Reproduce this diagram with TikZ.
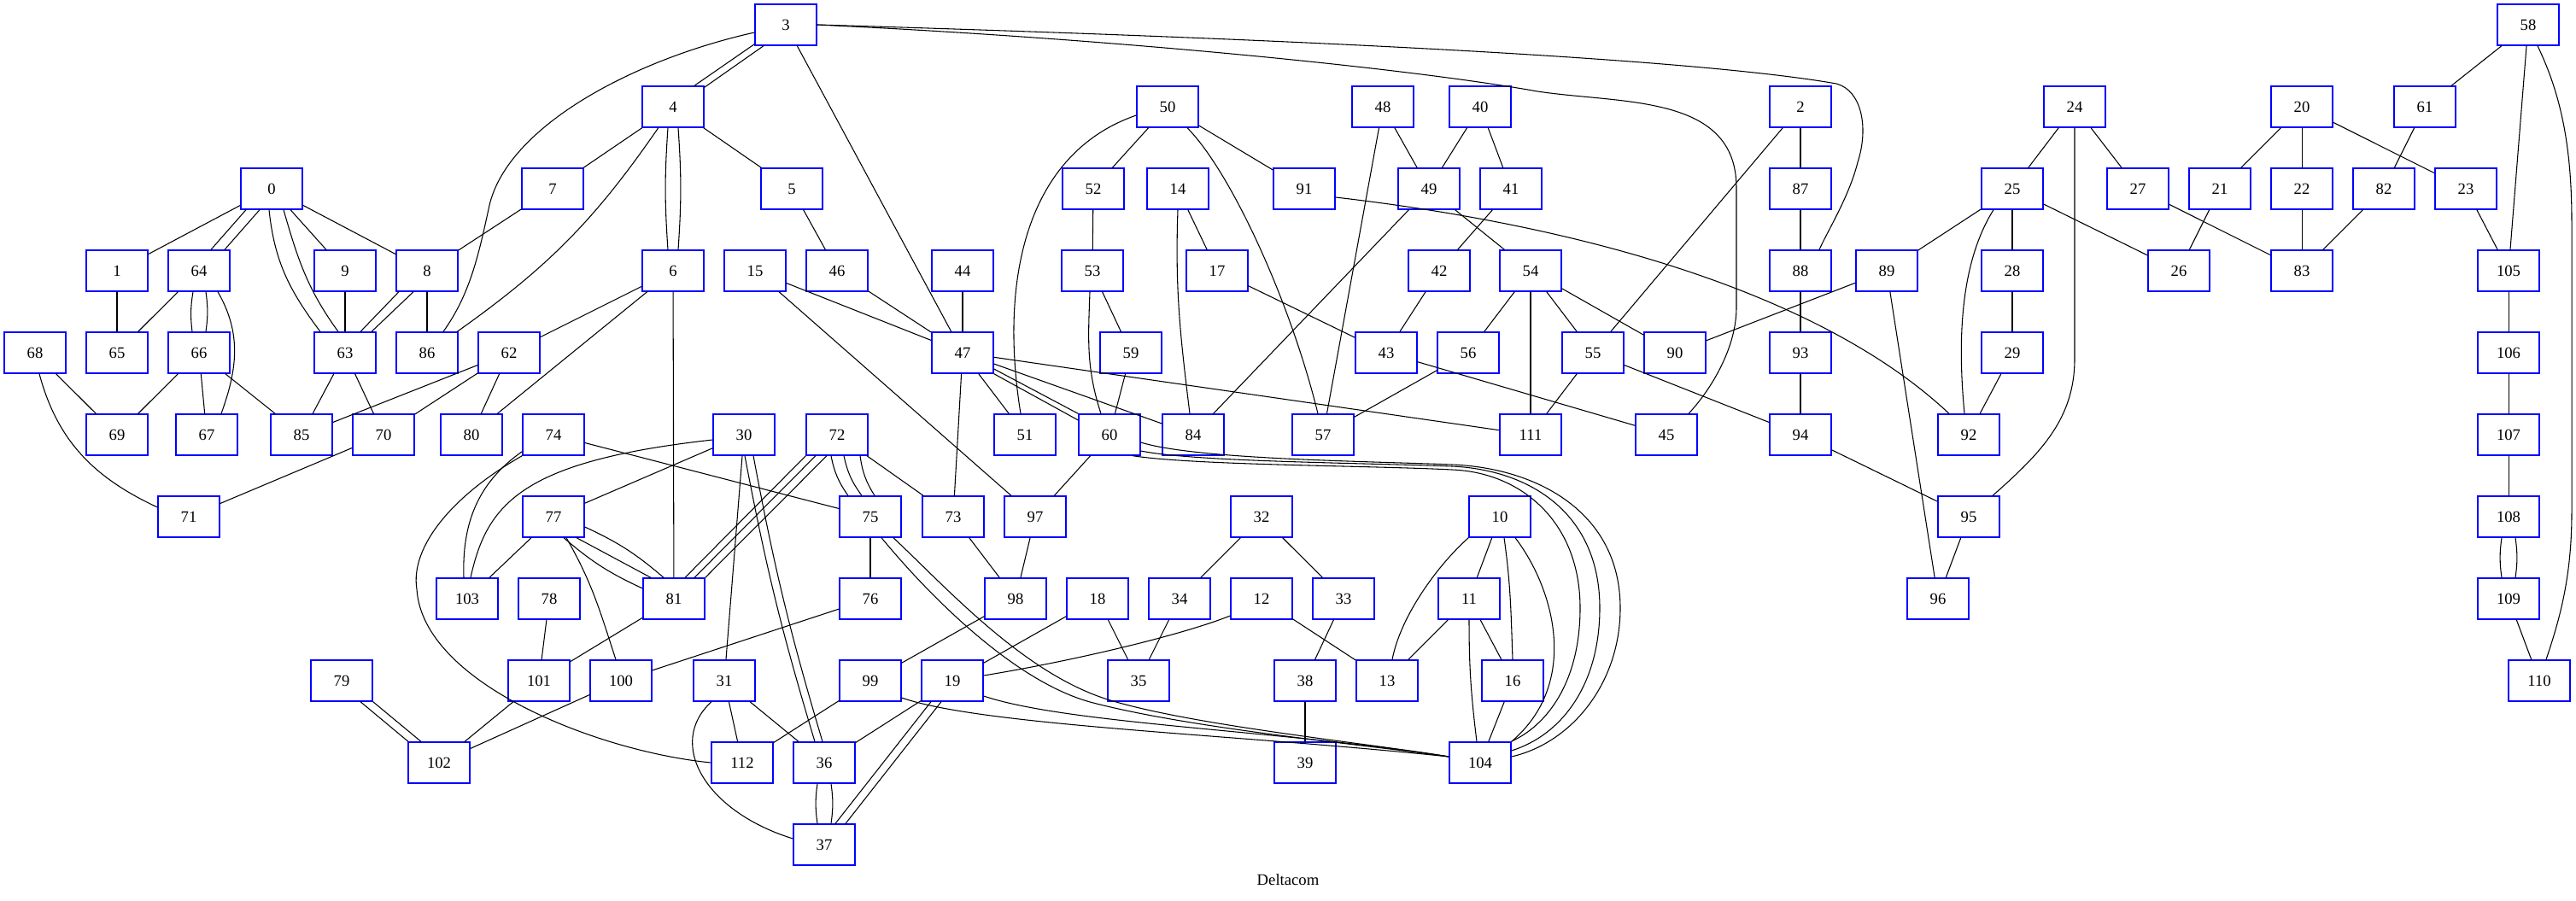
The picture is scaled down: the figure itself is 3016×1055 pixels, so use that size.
\documentclass[tikz,border=0pt]{standalone}
\usepackage{fontspec}
\setmainfont{Liberation Serif}
\usetikzlibrary{calc}
\begin{document}
\begin{tikzpicture}[x=0.75pt,y=0.75pt,line width=0.8pt,
  pop/.style={draw=blue,rectangle,line width=1pt,minimum width=54pt,minimum height=36pt,inner sep=0pt,font=\fontsize{14}{16}\selectfont}]
  \useasboundingbox (0,0) rectangle (3016,-1055);
  \node [pop] (n0) at (318,-221) {0};
  \node [pop] (n1) at (137,-317) {1};
  \node [pop] (n2) at (2108,-125) {2};
  \node [pop] (n3) at (920,-29) {3};
  \node [pop] (n4) at (788,-125) {4};
  \node [pop] (n5) at (927,-221) {5};
  \node [pop] (n6) at (788,-317) {6};
  \node [pop] (n7) at (647,-221) {7};
  \node [pop] (n8) at (500,-317) {8};
  \node [pop] (n9) at (404,-317) {9};
  \node [pop] (n10) at (1756,-605) {10};
  \node [pop] (n11) at (1720,-701) {11};
  \node [pop] (n12) at (1477,-701) {12};
  \node [pop] (n13) at (1624,-797) {13};
  \node [pop] (n14) at (1379,-221) {14};
  \node [pop] (n15) at (884,-317) {15};
  \node [pop] (n16) at (1771,-797) {16};
  \node [pop] (n17) at (1425,-317) {17};
  \node [pop] (n18) at (1285,-701) {18};
  \node [pop] (n19) at (1115,-797) {19};
  \node [pop] (n20) at (2695,-125) {20};
  \node [pop] (n21) at (2599,-221) {21};
  \node [pop] (n22) at (2695,-221) {22};
  \node [pop] (n23) at (2887,-221) {23};
  \node [pop] (n24) at (2429,-125) {24};
  \node [pop] (n25) at (2356,-221) {25};
  \node [pop] (n26) at (2551,-317) {26};
  \node [pop] (n27) at (2503,-221) {27};
  \node [pop] (n28) at (2356,-317) {28};
  \node [pop] (n29) at (2356,-413) {29};
  \node [pop] (n30) at (871,-509) {30};
  \node [pop] (n31) at (848,-797) {31};
  \node [pop] (n32) at (1477,-605) {32};
  \node [pop] (n33) at (1573,-701) {33};
  \node [pop] (n34) at (1381,-701) {34};
  \node [pop] (n35) at (1333,-797) {35};
  \node [pop] (n36) at (965,-893) {36};
  \node [pop] (n37) at (965,-989) {37};
  \node [pop] (n38) at (1528,-797) {38};
  \node [pop] (n39) at (1528,-893) {39};
  \node [pop] (n40) at (1733,-125) {40};
  \node [pop] (n41) at (1769,-221) {41};
  \node [pop] (n42) at (1685,-317) {42};
  \node [pop] (n43) at (1623,-413) {43};
  \node [pop] (n44) at (1127,-317) {44};
  \node [pop] (n45) at (1951,-509) {45};
  \node [pop] (n46) at (980,-317) {46};
  \node [pop] (n47) at (1127,-413) {47};
  \node [pop] (n48) at (1619,-125) {48};
  \node [pop] (n49) at (1673,-221) {49};
  \node [pop] (n50) at (1367,-125) {50};
  \node [pop] (n51) at (1200,-509) {51};
  \node [pop] (n52) at (1280,-221) {52};
  \node [pop] (n53) at (1279,-317) {53};
  \node [pop] (n54) at (1792,-317) {54};
  \node [pop] (n55) at (1865,-413) {55};
  \node [pop] (n56) at (1719,-413) {56};
  \node [pop] (n57) at (1549,-509) {57};
  \node [pop] (n58) at (2960,-29) {58};
  \node [pop] (n59) at (1324,-413) {59};
  \node [pop] (n60) at (1299,-509) {60};
  \node [pop] (n61) at (2839,-125) {61};
  \node [pop] (n62) at (596,-413) {62};
  \node [pop] (n63) at (404,-413) {63};
  \node [pop] (n64) at (233,-317) {64};
  \node [pop] (n65) at (137,-413) {65};
  \node [pop] (n66) at (233,-413) {66};
  \node [pop] (n67) at (242,-509) {67};
  \node [pop] (n68) at (41,-413) {68};
  \node [pop] (n69) at (137,-509) {69};
  \node [pop] (n70) at (449,-509) {70};
  \node [pop] (n71) at (221,-605) {71};
  \node [pop] (n72) at (980,-509) {72};
  \node [pop] (n73) at (1116,-605) {73};
  \node [pop] (n74) at (648,-509) {74};
  \node [pop] (n75) at (1019,-605) {75};
  \node [pop] (n76) at (1019,-701) {76};
  \node [pop] (n77) at (648,-605) {77};
  \node [pop] (n78) at (643,-701) {78};
  \node [pop] (n79) at (400,-797) {79};
  \node [pop] (n80) at (552,-509) {80};
  \node [pop] (n81) at (789,-701) {81};
  \node [pop] (n82) at (2791,-221) {82};
  \node [pop] (n83) at (2695,-317) {83};
  \node [pop] (n84) at (1397,-509) {84};
  \node [pop] (n85) at (353,-509) {85};
  \node [pop] (n86) at (500,-413) {86};
  \node [pop] (n87) at (2108,-221) {87};
  \node [pop] (n88) at (2108,-317) {88};
  \node [pop] (n89) at (2209,-317) {89};
  \node [pop] (n90) at (1961,-413) {90};
  \node [pop] (n91) at (1527,-221) {91};
  \node [pop] (n92) at (2305,-509) {92};
  \node [pop] (n93) at (2108,-413) {93};
  \node [pop] (n94) at (2108,-509) {94};
  \node [pop] (n95) at (2305,-605) {95};
  \node [pop] (n96) at (2269,-701) {96};
  \node [pop] (n97) at (1212,-605) {97};
  \node [pop] (n98) at (1189,-701) {98};
  \node [pop] (n99) at (1019,-797) {99};
  \node [pop] (n100) at (727,-797) {100};
  \node [pop] (n101) at (631,-797) {101};
  \node [pop] (n102) at (514,-893) {102};
  \node [pop] (n103) at (547,-701) {103};
  \node [pop] (n104) at (1733,-893) {104};
  \node [pop] (n105) at (2937,-317) {105};
  \node [pop] (n106) at (2937,-413) {106};
  \node [pop] (n107) at (2937,-509) {107};
  \node [pop] (n108) at (2937,-605) {108};
  \node [pop] (n109) at (2937,-701) {109};
  \node [pop] (n110) at (2973,-797) {110};
  \node [pop] (n111) at (1792,-509) {111};
  \node [pop] (n112) at (869,-893) {112};
  \node [font=\fontsize{14}{16}\selectfont] (title) at (1508,-1030) {Deltacom};
  \draw (n0) -- (n1);
  \draw (n0) -- (n9);
  \draw (n0) -- (n8);
  \draw ($(n0.south)+(-30,0)$) -- ($(n64.north)+(14,0)$);
  \draw ($(n0.south)+(-14,0)$) -- ($(n64.north)+(30,0)$);
  \draw ($(n0.south)+(-3,0)$) to[out=-84,in=127] ($(n63.north)+(-29,0)$);
  \draw ($(n0.south)+(14,0)$) to[out=-74,in=126] ($(n63.north)+(-8,0)$);
  \draw (n1) -- (n65);
  \draw (n64) -- (n65);
  \draw ($(n64.south)+(-7,0)$) to[bend right=8] ($(n66.north)+(-8,0)$);
  \draw ($(n64.south)+(8,0)$) to[bend left=8] ($(n66.north)+(8,0)$);
  \draw ($(n64.south)+(22,0)$) to[out=-60,in=70] ($(n67.north)+(17,0)$);
  \draw (n9) -- (n63);
  \draw ($(n8.south)+(-33,0)$) -- ($(n63.north)+(18,0)$);
  \draw ($(n8.south)+(-16,0)$) -- ($(n63.north)+(31,0)$);
  \draw (n8) -- (n86);
  \draw (n7) -- (n8);
  \draw (n68) -- (n69);
  \draw ($(n68.south)+(5,0)$) to[out=-75,in=155] ($(n71.west)+(0,11)$);
  \draw (n66) -- (n69);
  \draw (n66) -- (n67);
  \draw (n66) -- (n85);
  \draw (n63) -- (n85);
  \draw (n63) -- (n70);
  \draw (n62) -- (n85);
  \draw (n62) -- (n70);
  \draw (n62) -- (n80);
  \draw (n70) -- (n71);
  \draw ($(n3.south west)+(0,2)$) -- ($(n4.north)+(25,0)$);
  \draw ($(n3.south)+(-26,0)$) -- ($(n4.north east)+(0,-2)$);
  \draw ($(n3.west)+(0,-9)$) .. controls (740,-70) and (590,-150) .. (572,-245) .. controls (560,-300) and (550,-345) .. ($(n86.north)+(19,0)$);
  \draw (n3) -- (n47);
  \draw (n3.east) .. controls (1500,-45) and (1980,-68) .. (2150,-98) .. controls (2180,-106) and (2188,-150) .. (2175,-190) .. controls (2165,-230) and (2140,-270) .. ($(n88.north)+(22,0)$);
  \draw (n3.east) .. controls (1300,-45) and (1650,-80) .. (1800,-107) .. controls (1900,-122) and (2033,-110) .. (2033,-220) -- (2033,-360) .. controls (2033,-410) and (2000,-460) .. ($(n45.north)+(26,0)$);
  \draw (n4) -- (n7);
  \draw (n4) -- (n5);
  \draw (n4) to[bend left=10] (n86);
  \draw ($(n4.south)+(-6,0)$) to[bend right=4] ($(n6.north)+(-6,0)$);
  \draw ($(n4.south)+(6,0)$) to[bend left=4] ($(n6.north)+(6,0)$);
  \draw (n5) -- (n46);
  \draw (n6) -- (n62);
  \draw (n6) -- (n80);
  \draw (n6) -- (n81);
  \draw (n46) -- (n47);
  \draw (n44) -- (n47);
  \draw (n15) -- (n47);
  \draw (n15) -- (n97);
  \draw (n47) -- (n51);
  \draw (n47) -- (n84);
  \draw (n47) -- (n111);
  \draw (n47) -- (n73);
  \draw ($(n47.east)+(0,-19)$) -- (n60.north west);
  \draw (n47.south east) -- ($(n60.west)+(0,17)$);
  \draw (n50) -- (n52);
  \draw (n50) -- (n91);
  \draw ($(n50.west)+(0,-10)$) .. controls (1200,-180) and (1170,-330) .. ($(n51.north)+(-5,0)$);
  \draw ($(n50.south)+(23,0)$) .. controls (1440,-200) and (1510,-350) .. ($(n57.north)+(-6,0)$);
  \draw (n52) -- (n53);
  \draw (n53) -- (n59);
  \draw ($(n53.south)+(-3,0)$) to[out=-92,in=108] ($(n60.north)+(-10,0)$);
  \draw (n59) -- (n60);
  \draw (n60) -- (n97);
  \draw (n14) -- (n17);
  \draw (n14.south) to[out=-92,in=97] ($(n84.north)+(-4,0)$);
  \draw (n17) -- (n43);
  \draw ($(n91.east)+(0,-10)$) .. controls (1900,-270) and (2150,-360) .. ($(n92.north)+(-23,0)$);
  \draw (n48) -- (n49);
  \draw (n48) -- (n57);
  \draw (n40) -- (n49);
  \draw (n40) -- (n41);
  \draw (n41) -- (n42);
  \draw (n42) -- (n43);
  \draw (n49) -- (n54);
  \draw (n49) -- (n84);
  \draw (n54) -- (n56);
  \draw (n54) -- (n111);
  \draw (n54) -- (n55);
  \draw (n54) -- (n90);
  \draw (n55) -- (n111);
  \draw (n56) -- (n57);
  \draw (n43) -- (n45);
  \draw (n2) -- (n55);
  \draw (n2) -- (n87);
  \draw (n87) -- (n88);
  \draw (n88) -- (n93);
  \draw (n93) -- (n94);
  \draw (n89) -- (n90);
  \draw (n55) -- (n94);
  \draw (n94) -- (n95);
  \draw (n95) -- (n96);
  \draw (n89) -- (n96);
  \draw (n24) -- (n25);
  \draw (n24) -- (n27);
  \draw (n24.south) -- (2429,-420) .. controls (2429,-490) and (2390,-530) .. ($(n95.north)+(28,0)$);
  \draw (n25) -- (n89);
  \draw (n25) -- (n28);
  \draw (n25) -- (n26);
  \draw ($(n25.south)+(-22,0)$) .. controls (2300,-300) and (2290,-380) .. ($(n92.north)+(-5,0)$);
  \draw (n28) -- (n29);
  \draw (n29) -- (n92);
  \draw (n20) -- (n21);
  \draw (n20) -- (n22);
  \draw (n20) -- (n23);
  \draw (n21) -- (n26);
  \draw (n22) -- (n83);
  \draw (n27) -- (n83);
  \draw (n61) -- (n82);
  \draw (n82) -- (n83);
  \draw (n23) -- (n105);
  \draw (n58) -- (n61);
  \draw (n58) -- (n105);
  \draw ($(n58.south)+(11,0)$) .. controls (2998,-110) and (3011,-170) .. (3011,-260) -- (3011,-600) .. controls (3011,-680) and (2995,-730) .. ($(n110.north)+(8,0)$);
  \draw (n105) -- (n106);
  \draw (n106) -- (n107);
  \draw (n107) -- (n108);
  \draw ($(n108.south)+(-8,0)$) to[bend right=8] ($(n109.north)+(-8,0)$);
  \draw ($(n108.south)+(8,0)$) to[bend left=8] ($(n109.north)+(8,0)$);
  \draw (n109) -- (n110);
  \draw (n74) -- (n75);
  \draw ($(n74.south west)+(0,5)$) to[out=-145,in=92] ($(n103.north)+(-4,0)$);
  \draw (n74.south west) .. controls (530,-580) and (480,-640) .. (488,-690) .. controls (495,-800) and (700,-880) .. (n112.west);
  \draw ($(n30.west)+(0,-6)$) .. controls (610,-540) and (570,-590) .. ($(n103.north)+(4,0)$);
  \draw (n30) -- (n77);
  \draw (n30) -- (n31);
  \draw ($(n30.south)+(1,0)$) to[bend right=3] ($(n36.north)+(-11,0)$);
  \draw ($(n30.south)+(11,0)$) to[bend right=3] ($(n36.north)+(-2,0)$);
  \draw (n72.south west) -- ($(n81.north)+(13,0)$);
  \draw ($(n72.south)+(-25,0)$) -- ($(n81.north)+(24,0)$);
  \draw ($(n72.south)+(-12,0)$) -- (n81.north east);
  \draw ($(n72.south)+(-7,0)$) to[bend right=12] ($(n75.north)+(-26,0)$);
  \draw ($(n72.south)+(8,0)$) to[bend right=12] ($(n75.north)+(-10,0)$);
  \draw ($(n72.south)+(27,0)$) to[bend right=12] ($(n75.north)+(5,0)$);
  \draw (n72) -- (n73);
  \draw ($(n77.east)+(0,-12)$) to[bend left=8] ($(n81.north)+(-12,0)$);
  \draw ($(n77.south)+(27,0)$) -- ($(n81.north)+(-27,0)$);
  \draw ($(n77.south)+(12,0)$) to[bend right=8] ($(n81.west)+(0,12)$);
  \draw (n77) -- (n103);
  \draw ($(n77.south)+(15,0)$) to[out=-60,in=108] ($(n100.north)+(-6,0)$);
  \draw (n78) -- (n101);
  \draw (n81) -- (n101);
  \draw (n101) -- (n102);
  \draw (n100) -- (n102);
  \draw ($(n79.south)+(22,0)$) -- ($(n102.north)+(-36,0)$);
  \draw (n79.south east) -- ($(n102.north)+(-21,0)$);
  \draw (n75) -- (n76);
  \draw (n76) -- (n100);
  \draw ($(n75.south)+(13,0)$) .. controls (1090,-700) and (1190,-800) .. (1280,-823) .. controls (1400,-854) and (1600,-872) .. ($(n104.west)+(0,7)$);
  \draw ($(n75.south)+(27,0)$) .. controls (1110,-690) and (1200,-790) .. (1300,-820) .. controls (1400,-850) and (1600,-870) .. ($(n104.west)+(0,7)$);
  \draw (n73) -- (n98);
  \draw (n97) -- (n98);
  \draw (n98) -- (n99);
  \draw (n99) -- (n112);
  \draw ($(n99.east)+(0,-20)$) .. controls (1150,-850) and (1450,-860) .. ($(n104.west)+(0,7)$);
  \draw (n31) -- (n112);
  \draw (n31) -- (n36);
  \draw ($(n31.south)+(-15,0)$) .. controls (780,-870) and (825,-950) .. ($(n37.west)+(0,7)$);
  \draw ($(n36.south)+(-8,0)$) to[bend right=8] ($(n37.north)+(-8,0)$);
  \draw ($(n36.south)+(8,0)$) to[bend left=8] ($(n37.north)+(8,0)$);
  \draw (n19) -- (n36);
  \draw ($(n19.south)+(-25,0)$) -- ($(n37.north)+(13,0)$);
  \draw ($(n19.south)+(-13,0)$) -- ($(n37.north)+(25,0)$);
  \draw ($(n19.east)+(0,-18)$) .. controls (1250,-848) and (1500,-855) .. ($(n104.west)+(0,7)$);
  \draw (n18) -- (n19);
  \draw (n18) -- (n35);
  \draw (n34) -- (n35);
  \draw (n32) -- (n34);
  \draw (n32) -- (n33);
  \draw (n33) -- (n38);
  \draw (n38) -- (n39);
  \draw ($(n12.west)+(0,-20)$) .. controls (1380,-745) and (1250,-775) .. ($(n19.east)+(0,6)$);
  \draw (n12) -- (n13);
  \draw (n10) -- (n11);
  \draw (n10.south west) .. controls (1685,-660) and (1640,-720) .. ($(n13.north)+(6,0)$);
  \draw ($(n10.south)+(5,0)$) to[out=-82,in=92] (n16.north);
  \draw ($(n10.south)+(18,0)$) .. controls (1820,-690) and (1850,-800) .. (n104.north east);
  \draw (n11) -- (n13);
  \draw (n11) -- (n16);
  \draw (n11.south) to[out=-90,in=97] ($(n104.north)+(-4,0)$);
  \draw (n16) -- (n104);
  \draw ($(n60.east)+(0,-9)$) .. controls (1400,-538) and (1600,-540) .. (1700,-544) .. controls (1800,-548) and (1897,-600) .. (1897,-712) .. controls (1897,-800) and (1840,-870) .. ($(n104.east)+(0,7)$);
  \draw ($(n60.east)+(0,-19)$) .. controls (1400,-541) and (1600,-542) .. (1700,-546) .. controls (1790,-550) and (1873,-600) .. (1873,-712) .. controls (1873,-800) and (1830,-860) .. ($(n104.east)+(0,14)$);
  \draw ($(n60.south)+(27,0)$) .. controls (1400,-545) and (1600,-545) .. (1700,-550) .. controls (1780,-553) and (1850,-610) .. (1850,-712) .. controls (1850,-800) and (1810,-850) .. ($(n104.east)+(0,25)$);
\end{tikzpicture}
\end{document}
